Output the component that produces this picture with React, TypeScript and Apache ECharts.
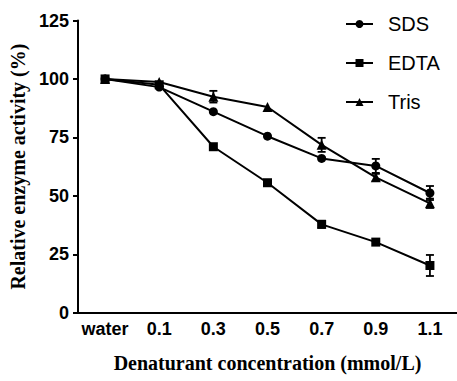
import React, { useEffect, useRef } from "react";
import * as echarts from "echarts";

const categories = ["water", "0.1", "0.3", "0.5", "0.7", "0.9", "1.1"];
const sdsValues = [100, 96.5, 86, 75.5, 66, 62.8, 51.2];
const sdsErr = [0, 0.8, 1, 1, 1.2, 3, 3];
const edtaValues = [100, 97.5, 71, 55.6, 37.8, 30.2, 20.2];
const edtaErr = [0, 0.5, 1, 0.8, 1.5, 1, 4.5];
const trisValues = [100, 98.7, 92.4, 88, 71.8, 57.9, 46.8];
const trisErr = [0, 0.8, 2.5, 0.8, 3, 1.5, 2];
const yTicks = [0, 25, 50, 75, 100, 125];

const FONT_SANS = "'Liberation Sans', Arial, sans-serif";
const FONT_SERIF = "'Liberation Serif', 'Times New Roman', serif";

function errData(vals: number[], errs: number[]) {
  return vals.map((v, i) => [i, v - errs[i], v + errs[i]]);
}

function errSeries(name: string, vals: number[], errs: number[], z: number) {
  return {
    type: "custom",
    name: name + "-err",
    z,
    silent: true,
    data: errData(vals, errs),
    renderItem: (params: any, api: any) => {
      const idx = api.value(0);
      const lo = api.coord([idx, api.value(1)]);
      const hi = api.coord([idx, api.value(2)]);
      const hw = 4;
      if (Math.abs(hi[1] - lo[1]) < 6) return { type: "group", children: [] };
      const st = { stroke: "#000", lineWidth: 1.8 };
      return {
        type: "group",
        children: [
          { type: "line", shape: { x1: lo[0], y1: lo[1], x2: hi[0], y2: hi[1] }, style: st },
          { type: "line", shape: { x1: hi[0] - hw, y1: hi[1], x2: hi[0] + hw, y2: hi[1] }, style: st },
          { type: "line", shape: { x1: lo[0] - hw, y1: lo[1], x2: lo[0] + hw, y2: lo[1] }, style: st },
        ],
      };
    },
  };
}

export default function App() {
  const ref = useRef<HTMLDivElement>(null);
  useEffect(() => {
    if (!ref.current) return;
    const chart = echarts.init(ref.current, undefined, { renderer: "svg" });
    const lineStyle = { color: "#000", width: 2 };
    chart.setOption({
      animation: false,
      backgroundColor: "#fff",
      legend: {
        orient: "vertical",
        left: 345,
        top: 14,
        padding: 0,
        itemWidth: 27,
        itemHeight: 10,
        itemGap: 19,
        data: ["SDS", "EDTA", "Tris"],
        textStyle: { fontFamily: FONT_SANS, fontSize: 20, color: "#000", padding: [0, 0, 0, 10] },
      },
      grid: { left: 78, top: 20.5, width: 381, bottom: 68.3, containLabel: false },
      xAxis: {
        type: "category",
        data: categories,
        boundaryGap: true,
        name: "Denaturant concentration (mmol/L)",
        nameLocation: "middle",
        nameGap: 40,
        nameTextStyle: { fontFamily: FONT_SERIF, fontWeight: "bold", fontSize: 20, color: "#000" },
        axisLine: { lineStyle: { color: "#000", width: 2 } },
        axisTick: { alignWithLabel: true, interval: 0, length: 5, lineStyle: { color: "#000", width: 2 } },
        axisLabel: { interval: 0, fontFamily: FONT_SANS, fontWeight: "bold", fontSize: 18, color: "#000", margin: 7 },
        splitLine: { show: false },
      },
      yAxis: {
        type: "value",
        min: yTicks[0],
        max: yTicks[yTicks.length - 1],
        interval: 25,
        name: "Relative enzyme activity (%)",
        nameLocation: "middle",
        nameGap: 45,
        nameTextStyle: { fontFamily: FONT_SERIF, fontWeight: "bold", fontSize: 20, color: "#000" },
        axisLine: { show: true, lineStyle: { color: "#000", width: 2 } },
        axisTick: { show: true, length: 5, lineStyle: { color: "#000", width: 2 } },
        axisLabel: { fontFamily: FONT_SANS, fontWeight: "bold", fontSize: 18, color: "#000", margin: 9 },
        splitLine: { show: false },
      },
      series: [
        errSeries("SDS", sdsValues, sdsErr, 2),
        errSeries("Tris", trisValues, trisErr, 2),
        errSeries("EDTA", edtaValues, edtaErr, 2),
        {
          type: "line",
          name: "SDS",
          data: sdsValues,
          z: 3,
          symbol: "circle",
          symbolSize: 9,
          itemStyle: { color: "#000" },
          lineStyle,
        },
        {
          type: "line",
          name: "Tris",
          data: trisValues,
          z: 3,
          symbol: "triangle",
          symbolSize: 10,
          itemStyle: { color: "#000" },
          lineStyle,
        },
        {
          type: "line",
          name: "EDTA",
          data: edtaValues,
          z: 4,
          symbol: "rect",
          symbolSize: 9,
          itemStyle: { color: "#000" },
          lineStyle,
        },
      ],
    });
    return () => chart.dispose();
  }, []);
  return <div ref={ref} style={{ width: 457, height: 381, position: "absolute", left: 0, top: 0 }} />;
}
